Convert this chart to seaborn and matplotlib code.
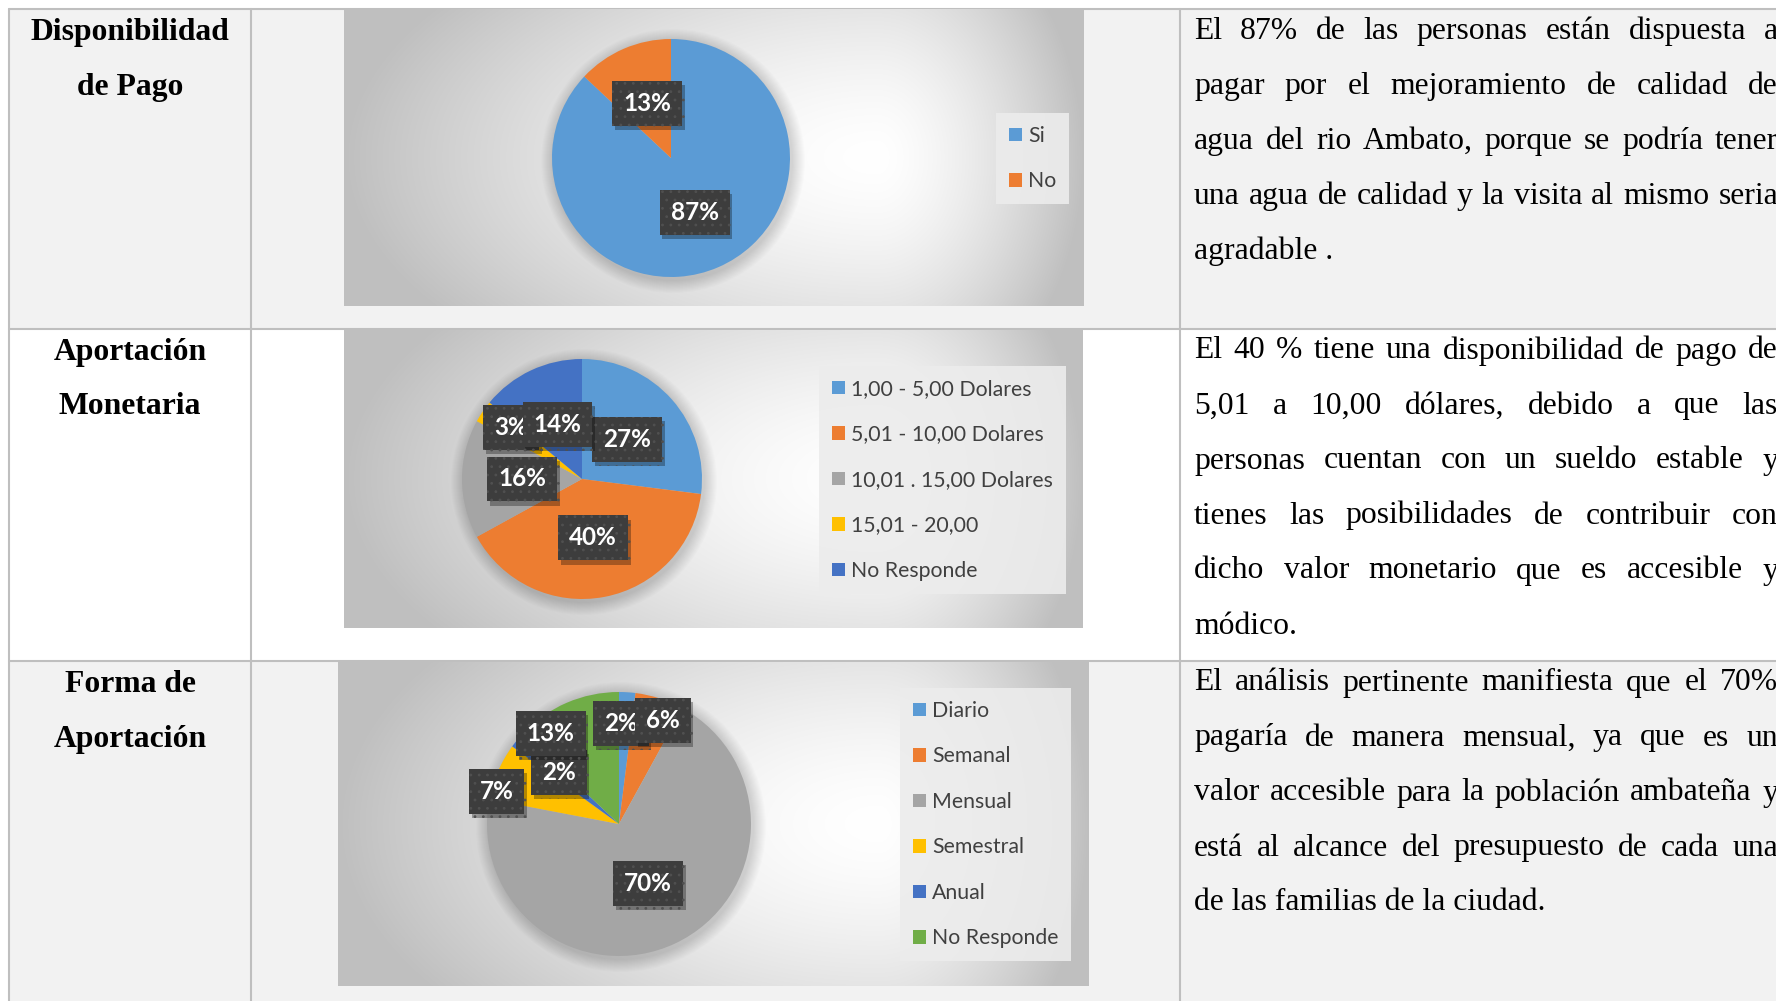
import numpy as np
import matplotlib
matplotlib.use("Agg")
import matplotlib.pyplot as plt
import matplotlib.patheffects as pe
from matplotlib.patches import Rectangle, Circle
import seaborn as sns

# datos de las tres preguntas
pago_cat = ["Si", "No"]
pago_val = [87, 13]

monto_cat = ["1,00 - 5,00 Dolares", "5,01 - 10,00 Dolares", "10,01 . 15,00 Dolares",
             "15,01 - 20,00", "No Responde"]
monto_val = [27, 40, 16, 3, 14]

forma_cat = ["Diario", "Semanal", "Mensual", "Semestral", "Anual", "No Responde"]
forma_val = [2, 6, 70, 7, 2, 13]

titulos = [["Disponibilidad", "de Pago"], ["Aportación", "Monetaria"], ["Forma de", "Aportación"]]

textos = [
    ["El 87% de las personas están dispuesta a",
     "pagar por el mejoramiento de calidad de",
     "agua del rio Ambato, porque se podría tener",
     "una agua de calidad y la visita al mismo seria",
     "agradable ."],
    ["El 40 % tiene una disponibilidad de pago de",
     "5,01 a 10,00 dólares, debido a que las",
     "personas cuentan con un sueldo estable y",
     "tienes las posibilidades de contribuir con",
     "dicho valor monetario que es accesible y",
     "módico."],
    ["El análisis pertinente manifiesta que el 70%",
     "pagaría de manera mensual, ya que es un",
     "valor accesible para la población ambateña y",
     "está al alcance del presupuesto de cada una",
     "de las familias de la ciudad."],
]

sns.set_theme(style="white")
office = sns.color_palette(["#5B9BD5", "#ED7D31", "#A5A5A5", "#FFC000", "#4472C4", "#70AD47"])
plt.rcParams["font.family"] = ["Liberation Serif", "DejaVu Serif"]
plt.rcParams["hatch.linewidth"] = 0.8

W, H = 1776, 1001
fig = plt.figure(figsize=(W / 100, H / 100), dpi=100)
fig.patch.set_facecolor("white")

# fondo de la tabla, en pixeles
bg = fig.add_axes([0, 0, 1, 1])
bg.set_xlim(0, W)
bg.set_ylim(H, 0)
bg.axis("off")

filas = [(9, 329, "#f2f2f2"), (329, 661, "white"), (661, H, "#f2f2f2")]
for y0, y1, c in filas:
    bg.add_patch(Rectangle((9, y0), W - 9, y1 - y0, color=c, lw=0, zorder=0))
borde = "#bfbfbf"
for y in [9, 329, 661]:
    bg.plot([9, W], [y, y], color=borde, lw=1.5, zorder=1)
for x in [9, 251, 1180]:
    bg.plot([x, x], [9, H], color=borde, lw=1.5, zorder=1)

fs_txt = 22.8
renderer = fig.canvas.get_renderer()

# titulos de la primera columna
base_tit = [40, 360, 692]
for tit, yb in zip(titulos, base_tit):
    for k, linea in enumerate(tit):
        bg.text(130, yb + k * 54.5, linea, ha="center", va="baseline",
                fontsize=fs_txt, fontweight="bold", color="black")

# texto justificado de la tercera columna
XL, XR = 1194, 1778
base_txt = [39, 358.5, 690.5]
paso = 55
for lineas, yb in zip(textos, base_txt):
    for i, linea in enumerate(lineas):
        y = yb + i * paso
        palabras = linea.split()
        if i == len(lineas) - 1:
            bg.text(XL, y, linea, va="baseline", fontsize=fs_txt, color="black")
            continue
        anchos = []
        for p in palabras:
            t = bg.text(0, 0, p, fontsize=fs_txt)
            anchos.append(t.get_window_extent(renderer).width)
            t.remove()
        gap = (XR - XL - sum(anchos)) / (len(palabras) - 1)
        xx = XL
        for p, a in zip(palabras, anchos):
            bg.text(xx, y, p, va="baseline", fontsize=fs_txt, color="black")
            xx += a + gap


def fondo(x0, y0, x1, y1):
    # degradado radial tipo excel, blanco hacia el centro-derecha
    nx, ny = int(x1 - x0), int(y1 - y0)
    xs = np.linspace(0, 1, nx)
    ys = np.linspace(0, 1, ny)
    X, Y = np.meshgrid(xs, ys)
    xc = 0.72
    dx = np.where(X < xc, (xc - X) / xc, (X - xc) / (1 - xc))
    dy = np.abs(Y - 0.5) / 0.5
    d = np.clip(np.sqrt(dx ** 2 + (0.55 * dy) ** 2), 0, 1)
    v = 1 - 0.25 * d ** 1.5
    return np.dstack([v, v, v])


def torta(valores, cats, caja, centro, r, dist, giro, ley_xy):
    x0, y0, x1, y1 = caja
    ax = fig.add_axes([x0 / W, 1 - y1 / H, (x1 - x0) / W, (y1 - y0) / H])
    ax.imshow(fondo(x0, y0, x1, y1), extent=(x0, x1, H - y1, H - y0), aspect="auto", zorder=0)
    cx, cy = centro[0], H - centro[1]
    for k in range(1, 14):
        ax.add_patch(Circle((cx + 2, cy - 3), r + k, color="black", alpha=0.011, lw=0, zorder=1))
    wedges, _ = ax.pie(valores, colors=office[:len(valores)], startangle=90, counterclock=False,
                       center=(cx, cy), radius=r, wedgeprops=dict(linewidth=0, zorder=2))
    for w, v, d, g in zip(wedges, valores, dist, giro):
        ang = np.deg2rad((w.theta1 + w.theta2) / 2 + g)
        t = ax.text(cx + d * r * np.cos(ang), cy + d * r * np.sin(ang), f"{v}%",
                    ha="center", va="center", fontsize=17.5, fontweight="bold",
                    color="white", family=["Lato", "DejaVu Sans"], zorder=5,
                    bbox=dict(boxstyle="square,pad=0.45", facecolor="#3d3d3d",
                              edgecolor="#505050", linewidth=0, hatch=".."))
        t.get_bbox_patch().set_path_effects(
            [pe.SimplePatchShadow(offset=(2, -3), shadow_rgbFace="black", alpha=0.3), pe.Normal()])
    ax.set_xlim(x0, x1)
    ax.set_ylim(H - y1, H - y0)
    ax.set_aspect("auto")
    ax.axis("off")
    leg = ax.legend(wedges, cats, loc="upper left", bbox_to_anchor=(ley_xy[0] / W, 1 - ley_xy[1] / H),
                    bbox_transform=fig.transFigure, borderaxespad=0, frameon=True,
                    facecolor="#ececec", edgecolor="none", framealpha=0.9, fancybox=False,
                    handlelength=0.6, handleheight=0.6, handletextpad=0.3,
                    labelspacing=1.2, borderpad=0.6,
                    prop=dict(family=["Lato", "DejaVu Sans"], size=15.3))
    for tx in leg.get_texts():
        tx.set_color("#404040")
    return ax


torta(pago_val, pago_cat, (344, 9, 1084, 306), (671, 158), 119,
      [0.5, 0.5], [0, 0], (996, 113))
torta(monto_val, monto_cat, (344, 330, 1083, 628), (582, 479), 120,
      [0.5, 0.5, 0.5, 0.73, 0.5], [0, 0, 0, -2, -1], (819, 366))
torta(forma_val, forma_cat, (338, 662, 1089, 986), (619, 824), 132,
      [0.76, 0.85, 0.5, 0.96, 0.6, 0.86], [2.6, -5, 0.8, 8.4, -0.9, 13.6], (900, 688))

fig.savefig("out.png", dpi=100)
